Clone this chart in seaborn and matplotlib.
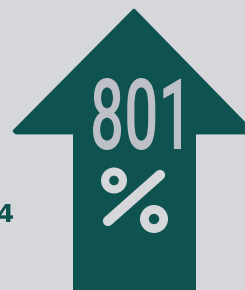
import matplotlib
matplotlib.use("Agg")
import matplotlib.pyplot as plt
import seaborn as sns
from matplotlib.patches import Polygon, PathPatch, Circle
from matplotlib.textpath import TextPath
from matplotlib.font_manager import FontProperties
from matplotlib.transforms import Affine2D

# data
value_label = "801"
side_label = "4"

teal = "#0f5350"
light = "#bec0c7"
pct_col = "#d6d7db"
bg = "#d6d7db"

sns.set_theme(style="white")
plt.rcParams['font.family'] = ['DejaVu Sans']

fig = plt.figure(figsize=(2.45, 2.90), dpi=100)
fig.patch.set_facecolor(bg)
ax = fig.add_axes([0, 0, 1, 1])
ax.set_facecolor(bg)
ax.set_xlim(0, 245)
ax.set_ylim(290, 0)
ax.axis("off")

# arrow: head + shaft
head = Polygon([(134, 10), (14, 131), (16, 133), (254, 133)], closed=True,
               facecolor=teal, edgecolor=teal, lw=2, joinstyle="round")
ax.add_patch(head)
shaft = Polygon([(73, 130), (196, 130), (196, 295), (73, 295)], closed=True,
                facecolor=teal, edgecolor="none")
ax.add_patch(shaft)


def fit_text(s, x0, x1, y0, y1, color, weight="normal", family="DejaVu Sans"):
    tp = TextPath((0, 0), s, size=100, prop=FontProperties(family=family, weight=weight))
    ext = tp.get_extents()
    sx = (x1 - x0) / ext.width
    sy = (y1 - y0) / ext.height
    tr = (Affine2D().translate(-ext.x0, -ext.y0).scale(sx, -sy)
          .translate(x0, y1))
    ax.add_patch(PathPatch(tr.transform_path(tp), facecolor=color, edgecolor="none"))


fit_text(value_label, 93, 181, 78, 150, light, weight=500, family="Roboto")
fit_text(side_label, -2, 13, 204, 222, teal, weight="bold")

# percent sign: two rings and a rounded slash
ax.plot([108, 160], [221, 175], color=pct_col, lw=7.4, solid_capstyle="round")
for cx, cy, r in [(114, 180.5, 13), (154, 219, 14)]:
    ax.add_patch(Circle((cx, cy), r, facecolor=pct_col, edgecolor="none"))
    ax.add_patch(Circle((cx, cy), r * 0.37, facecolor=teal, edgecolor="none"))

fig.savefig("out.png", dpi=100, facecolor=bg)
